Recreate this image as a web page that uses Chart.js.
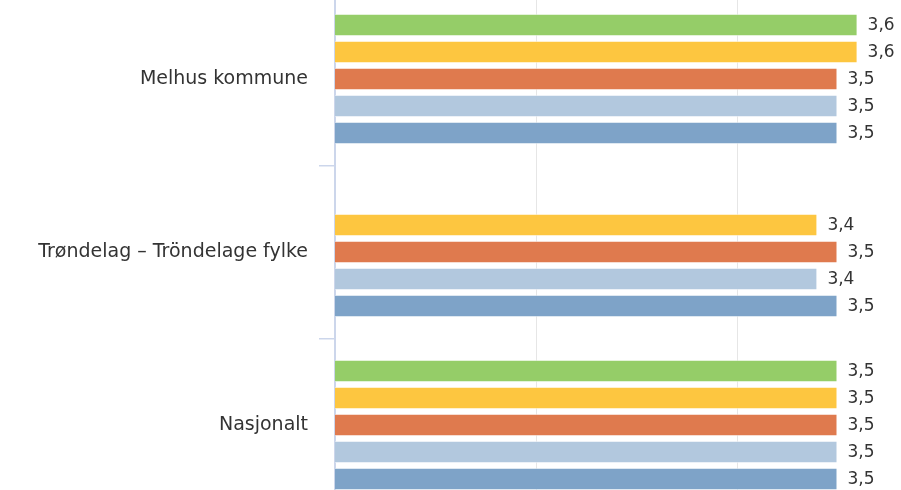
<!DOCTYPE html>
<html>
<head>
<meta charset="utf-8">
<script src="https://cdn.jsdelivr.net/npm/chart.js@4"></script>
<style>
  html, body { margin: 0; padding: 0; background: #fff; overflow: hidden; }
  body { width: 901px; height: 490px; position: relative; }
  /* chart is larger than the window, the reference is cropped on top, right and bottom */
  #wrap { position: absolute; left: 0; top: -30px; width: 1139px; height: 564px; }
</style>
</head>
<body>
<div id="wrap"><canvas id="chart"></canvas></div>
<script>
// Categories and series
const categories = ["Melhus kommune", "Trøndelag – Tröndelage fylke", "Nasjonalt"];
const seriesNames = ["Serie 1", "Serie 2", "Serie 3", "Serie 4", "Serie 5"];
const series1 = [3.6, null, 3.5];
const series2 = [3.6, 3.4, 3.5];
const series3 = [3.5, 3.5, 3.5];
const series4 = [3.5, 3.4, 3.5];
const series5 = [3.5, 3.5, 3.5];
const seriesColors = ["#95cd68", "#fdc640", "#df7a4e", "#b2c8de", "#7ea3c8"];

const textColor = "#333333";

// Draw value labels right of each bar, with a decimal comma
const valueLabels = {
  id: "valueLabels",
  afterDatasetsDraw(chart) {
    const ctx = chart.ctx;
    ctx.save();
    ctx.font = "17px 'DejaVu Sans'";
    ctx.fillStyle = textColor;
    ctx.textAlign = "left";
    ctx.textBaseline = "middle";
    chart.data.datasets.forEach((ds, i) => {
      const meta = chart.getDatasetMeta(i);
      meta.data.forEach((bar, j) => {
        const v = ds.data[j];
        if (v === null || v === undefined) return;
        ctx.fillText(v.toFixed(1).replace(".", ","), bar.x + 10, bar.y + 1);
      });
    });
    ctx.restore();
  }
};

const allSeries = [series1, series2, series3, series4, series5];

new Chart(document.getElementById("chart"), {
  type: "bar",
  data: {
    labels: categories,
    datasets: allSeries.map((data, i) => ({
      label: seriesNames[i],
      data: data,
      backgroundColor: seriesColors[i],
      borderColor: "rgba(255,255,255,0.7)",
      borderWidth: 1,
      categoryPercentage: 0.78,
      barPercentage: 0.83
    }))
  },
  options: {
    indexAxis: "y",
    responsive: true,
    maintainAspectRatio: false,
    animation: false,
    layout: { padding: 0 },
    plugins: {
      legend: { display: false },
      title: { display: false },
      tooltip: { enabled: false }
    },
    scales: {
      x: {
        min: 1,
        max: 5,
        ticks: { display: false, stepSize: 1 },
        grid: { color: "#e6e6e6", lineWidth: 1, drawTicks: false },
        border: { display: false }
      },
      y: {
        afterFit(scale) { scale.width = 335; },
        ticks: {
          color: textColor,
          font: { family: "'DejaVu Sans'", size: 19 },
          padding: 11
        },
        grid: {
          drawOnChartArea: false,
          color: "#ccd6eb",
          lineWidth: 1.5,
          tickLength: 16
        },
        border: { color: "#ccd6eb", width: 2 }
      }
    }
  },
  plugins: [valueLabels]
});
</script>
</body>
</html>
